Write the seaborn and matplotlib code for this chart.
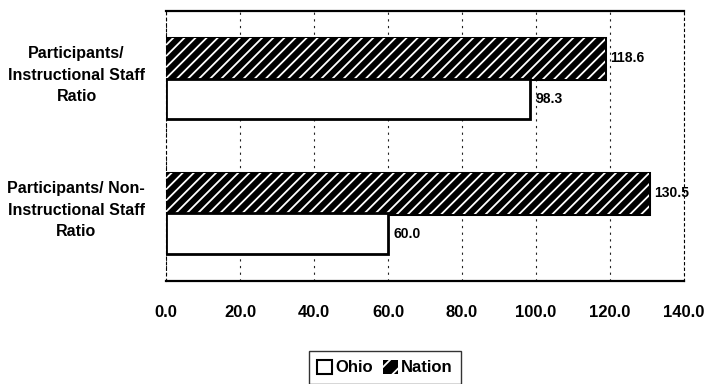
import matplotlib
matplotlib.use("Agg")
import matplotlib.pyplot as plt
import matplotlib.patheffects as pe
import matplotlib.transforms as mtransforms
from matplotlib.patches import Patch
import pandas as pd
import seaborn as sns

# ---- data ----
categories = ["Participants/\nInstructional Staff\nRatio",
              "Participants/ Non-\nInstructional Staff\nRatio"]
ohio_values = [98.3, 60.0]
nation_values = [118.6, 130.5]
series_names = ["Ohio", "Nation"]
x_ticks = [0, 20, 40, 60, 80, 100, 120, 140]
x_tick_labels = ["0.0", "20.0", "40.0", "60.0", "80.0", "100.0", "120.0", "140.0"]

df = pd.DataFrame({
    "category": categories * 2,
    "series": ["Ohio"] * len(categories) + ["Nation"] * len(categories),
    "value": ohio_values + nation_values,
})

sns.set_style("white")
plt.rcParams["font.family"] = ["Liberation Sans", "DejaVu Sans"]
plt.rcParams["font.weight"] = "bold"
plt.rcParams["text.color"] = "black"
plt.rcParams["xtick.color"] = "black"
plt.rcParams["ytick.color"] = "black"
plt.rcParams["hatch.linewidth"] = 1.3

fig = plt.figure(figsize=(7.08, 3.84), dpi=100)
ax = fig.add_axes([166 / 708, 1 - 281 / 384, (684 - 166) / 708, (281 - 11) / 384])

sns.barplot(data=df, y="category", x="value", hue="series",
            hue_order=["Nation", "Ohio"], order=categories,
            palette={"Nation": "black", "Ohio": "white"},
            orient="h", width=0.6, errorbar=None, ax=ax, legend=False,
            saturation=1)

# style Nation (hatched) and Ohio (outlined) bars
nation_cont, ohio_cont = ax.containers[0], ax.containers[1]
for p in nation_cont.patches:
    p.set_facecolor("black")
    p.set_edgecolor("white")
    p.set_hatch("///")
    p.set_linewidth(0)
    p.set_path_effects([pe.Stroke(linewidth=2.2, foreground="black"), pe.Normal()])
for p in ohio_cont.patches:
    p.set_facecolor("white")
    p.set_edgecolor("black")
    p.set_linewidth(2)

ax.bar_label(nation_cont, fmt="%.1f", padding=4, fontsize=10, fontweight="bold", color="black")
ax.bar_label(ohio_cont, fmt="%.1f", padding=4, fontsize=10, fontweight="bold", color="black")

ax.set_xlim(0, 140)
ax.set_ylim(1.5, -0.5)
ax.set_xticks(x_ticks)
ax.set_xticklabels(x_tick_labels, fontsize=12, fontweight="bold")
ax.set_xlabel("")
ax.set_ylabel("")
ax.tick_params(axis="x", length=3, direction="out", color="black", pad=14, labelcolor="black")
ax.tick_params(axis="y", length=0, pad=15, labelsize=11.5, labelcolor="black")
shift = mtransforms.ScaledTranslation(0, 8 / 100, fig.dpi_scale_trans)
for t in ax.get_yticklabels():
    t.set_multialignment("center")
    t.set_linespacing(1.55)
    t.set_fontweight("bold")
    t.set_transform(t.get_transform() + shift)
ax.set_yticks([0.5], minor=True)
ax.tick_params(axis="y", which="minor", length=3, direction="out", color="black")

ax.set_axisbelow(True)
ax.xaxis.grid(True, color="#222222", linestyle=(0, (2, 4)), linewidth=0.8)
ax.yaxis.grid(False)
for side in ["top", "bottom"]:
    ax.spines[side].set_color("black")
    ax.spines[side].set_linewidth(1.6)
for side in ["left", "right"]:
    ax.spines[side].set_color("black")
    ax.spines[side].set_linewidth(0.8)
    ax.spines[side].set_linestyle((0, (2, 3)))

handles = [Patch(facecolor="white", edgecolor="black", linewidth=1.5, label="Ohio"),
           Patch(facecolor="black", edgecolor="white", hatch="//", linewidth=0, label="Nation")]
leg = fig.legend(handles=handles, loc="upper center", bbox_to_anchor=(385 / 708, 1 - 343 / 384),
                 ncol=2, frameon=True, prop={"size": 12, "weight": "bold"},
                 handlelength=0.9, handleheight=0.9,
                 handletextpad=0.2, columnspacing=0.6, borderpad=0.5, fancybox=False)
leg.get_frame().set_edgecolor("black")
leg.get_frame().set_linewidth(1.0)

fig.savefig("out.png", dpi=100)
